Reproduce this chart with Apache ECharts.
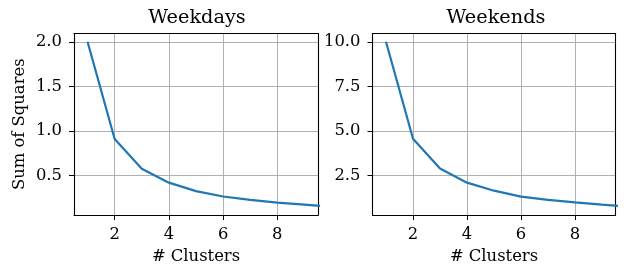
<!DOCTYPE html>
<html>
<head>
<meta charset="utf-8">
<script src="https://cdn.jsdelivr.net/npm/echarts@6/dist/echarts.min.js"></script>
<style>html,body{margin:0;padding:0;background:#fff;}#c{width:626px;height:270px;}</style>
</head>
<body>
<div id="c"></div>
<script>
const clusters = [1, 2, 3, 4, 5, 6, 7, 8, 9, 10];
const weekdays = [2.0, 0.91, 0.575, 0.42, 0.325, 0.265, 0.228, 0.197, 0.174, 0.15];
const weekends = [10.0, 4.56, 2.89, 2.1, 1.65, 1.32, 1.14, 0.99, 0.87, 0.76];
const xTicks = [2, 4, 6, 8];
const yTicksWeekdays = [0.5, 1.0, 1.5, 2.0];
const yTicksWeekends = [2.5, 5.0, 7.5, 10.0];
const titles = ['Weekdays', 'Weekends'];

const font = 'DejaVu Serif';
const fs = 16.4;
const chart = echarts.init(document.getElementById('c'), null, {renderer: 'canvas'});

const blackLine = {show: true, lineStyle: {color: '#000', width: 1.1}};

function xAxis(idx) {
  return {
    type: 'value', gridIndex: idx, min: 0.5, max: 9.5,
    name: '# Clusters', nameLocation: 'middle', nameGap: 34,
    nameTextStyle: {fontFamily: font, fontSize: fs, color: '#000'},
    axisLine: blackLine,
    axisTick: {show: true, length: 5, inside: false, customValues: xTicks, lineStyle: {color: '#000', width: 1}},
    axisLabel: {customValues: xTicks, fontFamily: font, fontSize: fs, color: '#000', margin: 12,
      formatter: v => String(v)},
    splitLine: {show: true, lineStyle: {color: '#b0b0b0', width: 1}}
  };
}
function xAxisTop(idx) {
  return {
    type: 'value', gridIndex: idx, position: 'top', min: 0.5, max: 9.5,
    axisLine: blackLine, axisTick: {show: false}, axisLabel: {show: false}, splitLine: {show: false}
  };
}
function yAxis(idx, ticks, min, max, name) {
  return {
    type: 'value', gridIndex: idx, min: min, max: max,
    name: name, nameLocation: 'middle', nameGap: 46,
    nameTextStyle: {fontFamily: font, fontSize: fs, color: '#000'},
    axisLine: blackLine,
    axisTick: {show: true, length: 5, customValues: ticks, lineStyle: {color: '#000', width: 1}},
    axisLabel: {customValues: ticks, fontFamily: font, fontSize: fs, color: '#000', margin: 12,
      formatter: v => v.toFixed(1)},
    splitLine: {show: true, lineStyle: {color: '#b0b0b0', width: 1}}
  };
}
function yAxisRight(idx, min, max) {
  return {
    type: 'value', gridIndex: idx, position: 'right', min: min, max: max,
    axisLine: blackLine, axisTick: {show: false}, axisLabel: {show: false}, splitLine: {show: false}
  };
}

chart.setOption({
  backgroundColor: '#fff',
  animation: false,
  title: [
    {text: titles[0], left: 192, top: 3, textAlign: 'center',
      textStyle: {fontFamily: font, fontSize: 19.3, fontWeight: 'normal', color: '#000'}},
    {text: titles[1], left: 491, top: 3, textAlign: 'center',
      textStyle: {fontFamily: font, fontSize: 19.3, fontWeight: 'normal', color: '#000'}}
  ],
  grid: [
    {left: 74, top: 33.5, width: 244, height: 181.5, containLabel: false},
    {left: 372.5, top: 33.5, width: 243, height: 181.5, containLabel: false}
  ],
  xAxis: [xAxis(0), xAxis(1), xAxisTop(0), xAxisTop(1)],
  yAxis: [
    yAxis(0, yTicksWeekdays, 0.0575, 2.0925, 'Sum of Squares'),
    yAxis(1, yTicksWeekends, 0.2875, 10.4625, ''),
    yAxisRight(0, 0.0575, 2.0925),
    yAxisRight(1, 0.2875, 10.4625)
  ],
  series: [
    {type: 'line', xAxisIndex: 0, yAxisIndex: 0, showSymbol: false, clip: true,
      lineStyle: {color: '#1f77b4', width: 2.2}, itemStyle: {color: '#1f77b4'},
      data: clusters.map((c, i) => [c, weekdays[i]])},
    {type: 'line', xAxisIndex: 1, yAxisIndex: 1, showSymbol: false, clip: true,
      lineStyle: {color: '#1f77b4', width: 2.2}, itemStyle: {color: '#1f77b4'},
      data: clusters.map((c, i) => [c, weekends[i]])}
  ]
});
</script>
</body>
</html>
